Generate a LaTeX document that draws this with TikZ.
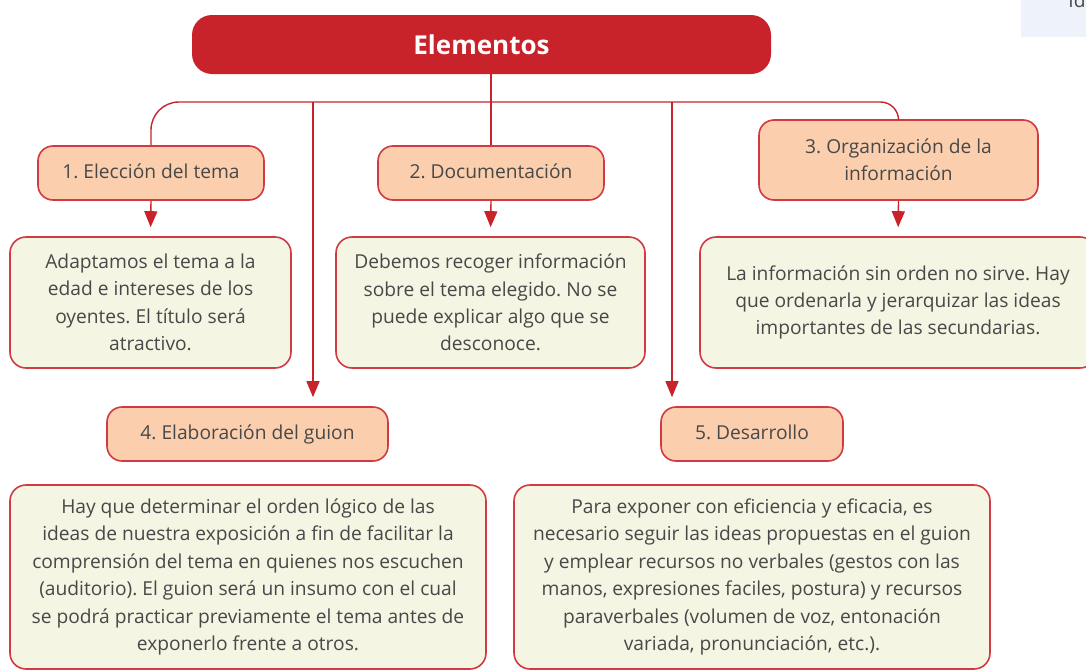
\documentclass[tikz,border=0pt]{standalone}
\usepackage{fontspec}
\setmainfont{Open Sans}
\frenchspacing
\usetikzlibrary{arrows.meta}
\definecolor{rojo}{HTML}{C8232B}
\definecolor{borde}{HTML}{D23A41}
\definecolor{durazno}{HTML}{FBCFAE}
\definecolor{crema}{HTML}{F4F5E3}
\definecolor{texto}{HTML}{484848}
\definecolor{celeste}{HTML}{EEF3FB}
\begin{document}
\begin{tikzpicture}[x=0.5pt,y=-0.5pt,
    paso/.style={draw=borde,line width=0.8pt,fill=durazno,rounded corners=7.5pt,
      inner sep=0pt,align=center,text=texto,font=\fontsize{9.6}{13.5}\selectfont},
    nota/.style={draw=borde,line width=0.8pt,fill=crema,rounded corners=8pt,
      inner sep=0pt,align=center,text=texto,font=\fontsize{9.6}{13.7}\selectfont},
    linea/.style={draw=rojo,line width=0.7pt},
    flecha/.style={linea,-{Triangle[width=6.5pt,length=8pt]},shorten >=4.5pt}]
    \useasboundingbox (0,0) rectangle (1086,669);
    \clip (0,0) rectangle (1086,669);
    \fill[celeste] (1021,0) rectangle (1086,37);
    \node[anchor=base west,text=texto,font=\fontsize{9.6}{13.5}\selectfont,inner sep=0pt] (ide) at (1068,7) {Id};
    \node[fill=rojo,rounded corners=10pt,minimum width=289.5pt,minimum height=29.5pt,
      text=white,font=\fontsize{13}{15}\selectfont\bfseries] (elem) at (481.5,44.5) {Elementos};
    % pasos
    \node[paso,minimum width=113pt,minimum height=27pt] (tema) at (151,173) {\strut 1. Elección del tema};
    \node[paso,minimum width=113pt,minimum height=27pt] (doc) at (491,173) {\strut 2. Documentación};
    \node[paso,minimum width=139.5pt,minimum height=40pt] (org) at (898.5,160) {3. Organización de la\\información};
    \node[paso,minimum width=140.5pt,minimum height=27pt] (guion) at (247.5,434) {\strut 4. Elaboración del guion};
    \node[paso,minimum width=91pt,minimum height=27pt] (desa) at (752,434) {\strut 5. Desarrollo};
    % notas
    \node[nota,minimum width=140.5pt,minimum height=65.5pt] (n1) at (150.5,302.5)
      {Adaptamos el tema a la\\edad e intereses de los\\oyentes. El título será\\atractivo.};
    \node[nota,minimum width=154.5pt,minimum height=65.5pt] (n2) at (490.5,302.5)
      {Debemos recoger información\\sobre el tema elegido. No se\\puede explicar algo que se\\desconoce.};
    \node[nota,minimum width=198pt,minimum height=65.5pt] (n3) at (898,302.5)
      {La información sin orden no sirve. Hay\\que ordenarla y jerarquizar las ideas\\importantes de las secundarias.};
    \node[nota,minimum width=238pt,minimum height=92pt] (n4) at (248,577)
      {Hay que determinar el orden lógico de las\\ideas de nuestra exposición a fin de facilitar la\\comprensión del tema en quienes nos escuchen\\(auditorio). El guion será un insumo con el cual\\se podrá practicar previamente el tema antes de\\exponerlo frente a otros.};
    \node[nota,minimum width=238pt,minimum height=92pt] (n5) at (752,577)
      {Para exponer con eficiencia y eficacia, es\\necesario seguir las ideas propuestas en el guion\\y emplear recursos no verbales (gestos con las\\manos, expresiones faciles, postura) y recursos\\paraverbales (volumen de voz, entonación\\variada, pronunciación, etc.).};
    % conectores
    \coordinate (bus) at (490,102);
    \coordinate (b4) at (313,102);
    \coordinate (b5) at (672,102);
    \draw[linea] (doc.north) -- (doc.north |- elem.south);
    \draw[linea,rounded corners=14pt] (tema.north) |- (bus);
    \draw[linea,rounded corners=9pt] (bus) -| (org.north);
    \draw[flecha] (b4) -- (b4 |- guion.north);
    \draw[flecha] (b5) -- (b5 |- desa.north);
    \draw[flecha] (tema.south) -- (n1.north);
    \draw[flecha] (doc.south) -- (n2.north);
    \draw[flecha] (org.south) -- (n3.north);
\end{tikzpicture}
\end{document}
